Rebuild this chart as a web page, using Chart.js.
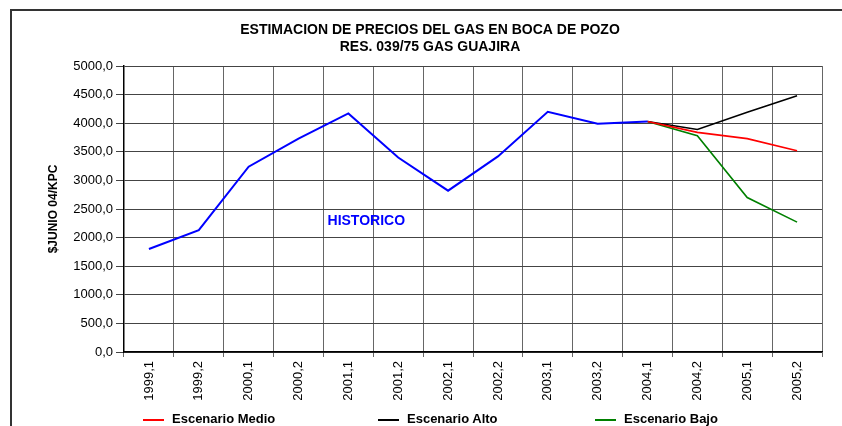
<!DOCTYPE html>
<html>
<head>
<meta charset="utf-8">
<script src="https://cdn.jsdelivr.net/npm/chart.js@4.4.0/dist/chart.umd.min.js"></script>
<style>
  html, body { margin: 0; padding: 0; background: #fff; }
  #wrap { position: relative; width: 842px; height: 426px; overflow: hidden; }
  #frame { position: absolute; left: 10px; top: 9px; right: -5px; bottom: -5px;
           border-left: 2px solid #333; border-top: 2px solid #333; }
  canvas { position: absolute; left: 0; top: 0; }
  #legend { position: absolute; left: 0; top: 411px; width: 842px; height: 16px;
            font: bold 13px "Liberation Sans", Arial, sans-serif; color: #000; }
  .item { position: absolute; top: 0; line-height: 16px; white-space: nowrap; }
  .swatch { display: inline-block; width: 21px; height: 0; border-top: 2px solid;
            vertical-align: middle; margin-right: 8px; }
</style>
</head>
<body>
<div id="wrap">
  <div id="frame"></div>
  <canvas id="chart" width="842" height="426"></canvas>
  <div id="legend"></div>
</div>
<script>
/* ---------- Data ---------- */
const periods = ['1999,1','1999,2','2000,1','2000,2','2001,1','2001,2','2002,1',
                 '2002,2','2003,1','2003,2','2004,1','2004,2','2005,1','2005,2'];

const historico = [1800, 2130, 3240, 3730, 4170, 3400, 2820, 3420, 4200, 3990, 4030,
                   null, null, null];
const medio     = [null, null, null, null, null, null, null, null, null, null, 4030, 3840, 3730, 3520];
const alto      = [null, null, null, null, null, null, null, null, null, null, 4030, 3890, 4190, 4480];
const bajo      = [null, null, null, null, null, null, null, null, null, null, 4030, 3780, 2700, 2270];

const yTicks = { min: 0, max: 5000, step: 500 };

const titleLines = ['ESTIMACION DE PRECIOS DEL GAS EN BOCA DE POZO', 'RES. 039/75 GAS GUAJIRA'];
const yTitle = '$JUNIO 04/KPC';
const histLabel = 'HISTORICO';

const FONT = '"Liberation Sans", Arial, sans-serif';

/* ---------- title (centred over the framed box) + "HISTORICO" text ---------- */
const texts = {
  id: 'texts',
  afterDraw(chart){
    const {ctx, scales:{x, y}} = chart;
    ctx.save();
    ctx.textAlign = 'center';
    ctx.textBaseline = 'middle';
    ctx.fillStyle = '#000';
    ctx.font = 'bold 14px ' + FONT;
    titleLines.forEach((t, i) => ctx.fillText(t, 430, 30 + i * 16.8));

    const px = (x.getPixelForValue(4) + x.getPixelForValue(5)) / 2 - 7;
    const py = y.getPixelForValue(2290);
    ctx.fillStyle = '#0000ff';
    ctx.fillText(histLabel, px, py);
    ctx.restore();
  }
};

const line = (label, data, color, width) => ({
  label, data, borderColor: color, backgroundColor: color,
  borderWidth: width, pointRadius: 0, tension: 0, fill: false
});

const chart = new Chart(document.getElementById('chart').getContext('2d'), {
  type: 'line',
  data: {
    labels: periods,
    datasets: [
      line('Historico', historico, '#0000ff', 2),
      line('Escenario Medio', medio, '#ff0000', 1.6),
      line('Escenario Alto', alto, '#000000', 1.6),
      line('Escenario Bajo', bajo, '#008000', 1.6)
    ]
  },
  options: {
    responsive: false,
    animation: false,
    layout: { padding: { left: 0, right: 20, top: 66, bottom: 0 } },
    plugins: {
      legend: { display: false },
      tooltip: { enabled: false },
      title: { display: false }
    },
    scales: {
      x: {
        offset: true,
        grid: { offset: true, color: '#666', lineWidth: 1, tickLength: 5 },
        border: { color: '#000', width: 1.5 },
        ticks: { color: '#000', font: { family: FONT, size: 13 }, minRotation: 90, maxRotation: 90,
                 padding: 4, autoSkip: false },
        afterFit: s => { s.height = 74; }
      },
      y: {
        min: yTicks.min, max: yTicks.max,
        grid: { color: '#444', lineWidth: 1, tickLength: 8 },
        border: { color: '#000', width: 1.5 },
        ticks: { stepSize: yTicks.step, color: '#000', font: { family: FONT, size: 13 }, padding: 3,
                 callback: v => v.toFixed(1).replace('.', ',') },
        title: { display: true, text: yTitle, color: '#000',
                 font: { family: FONT, size: 12, weight: 'bold' }, padding: { top: 46, bottom: 0 } },
        afterFit: s => { s.width = 124; }
      }
    }
  },
  plugins: [texts]
});

/* ---------- Legend (scenario series only) ---------- */
const legendLeft = [143, 378, 595];
const legend = document.getElementById('legend');
chart.data.datasets.slice(1).forEach((ds, i) => {
  const it = document.createElement('div');
  it.className = 'item';
  it.style.left = legendLeft[i] + 'px';
  const sw = document.createElement('span');
  sw.className = 'swatch';
  sw.style.borderColor = ds.borderColor;
  it.appendChild(sw);
  it.appendChild(document.createTextNode(ds.label));
  legend.appendChild(it);
});
</script>
</body>
</html>
